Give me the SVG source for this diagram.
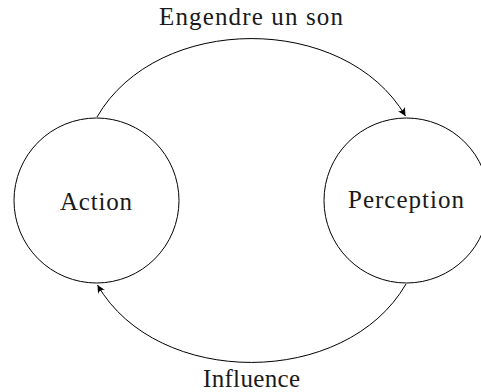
<svg xmlns="http://www.w3.org/2000/svg" width="481" height="392" viewBox="0 0 481 392">
<style>
.node{fill:none;stroke:#000;stroke-width:1}
.edge{fill:none;stroke:#000;stroke-width:1}
text{font-family:"Liberation Serif","Times New Roman",serif;font-size:25px;fill:#1a1a1a}
</style>
<defs>
<marker id="arr" viewBox="0 0 10 10" refX="10" refY="5" markerWidth="8" markerHeight="8" markerUnits="userSpaceOnUse" orient="auto">
<path d="M0,0 Q4,5 0,10 L10,5 Z" fill="#000"/>
</marker>
</defs>
<g id="connectors">
<path class="edge" d="M97,117 C157.3,12.6 344.7,12.6 405.5,116" marker-end="url(#arr)"/>
<path class="edge" d="M406,284 C345.7,388.4 157.3,388.4 97.5,285" marker-end="url(#arr)"/>
<text x="251" y="25" text-anchor="middle" textLength="184">Engendre un son</text>
<text x="251.5" y="387" text-anchor="middle" textLength="97">Influence</text>
</g>
<g id="action">
<circle class="node" cx="96.5" cy="200.5" r="82.5"/>
<text x="96" y="210" text-anchor="middle" textLength="72">Action</text>
</g>
<g id="perception">
<circle class="node" cx="406.5" cy="200.5" r="82.5"/>
<text x="406" y="207.5" text-anchor="middle" textLength="116">Perception</text>
</g>
</svg>
